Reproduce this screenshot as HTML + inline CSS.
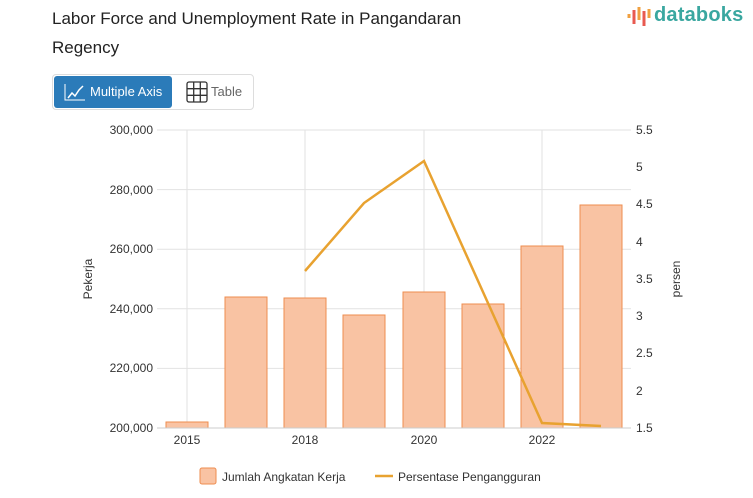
<!DOCTYPE html>
<html><head><meta charset="utf-8"><style>
body{margin:0;width:753px;height:498px;background:#fff;font-family:"Liberation Sans",sans-serif;overflow:hidden;position:relative}
.t{position:absolute;left:52px;top:4px;font-size:17px;line-height:29px;color:#222}
.logo{position:absolute;left:654px;top:4px;font-size:20px;color:#3aa7a0;font-weight:bold;letter-spacing:0.2px}
.tb{position:absolute;left:52px;top:74px;width:200px;height:34px;border:1px solid #ddd;border-radius:4px}
.b1{position:absolute;left:1px;top:1px;width:118px;height:32px;background:#2b7bb9;border-radius:3px;color:#fff;font-size:13px;line-height:32px}
.b2{position:absolute;left:158px;top:9px;font-size:13px;color:#666}
</style></head><body>
<div class="t">Labor Force and Unemployment Rate in Pangandaran<br>Regency</div>
<svg style="position:absolute;left:627px;top:6px" width="26" height="22"><g stroke-width="3"><line x1="2" y1="8" x2="2" y2="12" stroke="#f0a040"/><line x1="7" y1="4" x2="7" y2="18" stroke="#e85a50"/><line x1="12" y1="1" x2="12" y2="14" stroke="#f0a040"/><line x1="17" y1="5" x2="17" y2="20" stroke="#e85a50"/><line x1="22" y1="3" x2="22" y2="12" stroke="#f0a040"/></g></svg>
<div class="logo">databoks</div>
<div class="tb"><div class="b1"><svg style="position:absolute;left:10px;top:7px" width="22" height="18"><path d="M1 1V17H21" stroke="#fff" fill="none"/><path d="M4 15l4-5 3 3 4-6 4-4" stroke="#fff" fill="none" stroke-width="1.5"/></svg><span style="position:absolute;left:36px">Multiple Axis</span></div>
<svg style="position:absolute;left:133px;top:6px" width="22" height="22"><g stroke="#333" fill="none" stroke-width="1.3"><rect x="1" y="1" width="20" height="20" rx="2"/><line x1="7.7" y1="1" x2="7.7" y2="21"/><line x1="14.3" y1="1" x2="14.3" y2="21"/><line x1="1" y1="7.7" x2="21" y2="7.7"/><line x1="1" y1="14.3" x2="21" y2="14.3"/></g></svg>
<div class="b2">Table</div></div>
<svg style="position:absolute;left:0;top:0" width="753" height="498" font-family="Liberation Sans, sans-serif" font-size="12" fill="#333">
<g stroke="#e2e2e2"><line x1="157" x2="631" y1="130" y2="130"/><line x1="157" x2="631" y1="189.6" y2="189.6"/><line x1="157" x2="631" y1="249.2" y2="249.2"/><line x1="157" x2="631" y1="308.8" y2="308.8"/><line x1="157" x2="631" y1="368.4" y2="368.4"/>
<line x1="187" x2="187" y1="130" y2="428"/><line x1="305" x2="305" y1="130" y2="428"/><line x1="424" x2="424" y1="130" y2="428"/><line x1="542" x2="542" y1="130" y2="428"/></g>
<g fill="#f9c3a3" stroke="#ee8c4f" stroke-width="1">
<rect x="166" y="422" width="42" height="6"/><rect x="225" y="297" width="42" height="131"/><rect x="284" y="298" width="42" height="130"/><rect x="343" y="315" width="42" height="113"/><rect x="403" y="292" width="42" height="136"/><rect x="462" y="304" width="42" height="124"/><rect x="521" y="246" width="42" height="182"/><rect x="580" y="205" width="42" height="223"/></g>
<line x1="157" x2="631" y1="428" y2="428" stroke="#ccc"/>
<polyline points="305,271 364,203 424,161 483,292 542,423 601,426" fill="none" stroke="#e8a230" stroke-width="2.5"/>
<g text-anchor="end"><text x="153" y="134">300,000</text><text x="153" y="194">280,000</text><text x="153" y="253">260,000</text><text x="153" y="313">240,000</text><text x="153" y="372">220,000</text><text x="153" y="432">200,000</text></g>
<g><text x="636" y="134">5.5</text><text x="636" y="171">5</text><text x="636" y="208">4.5</text><text x="636" y="246">4</text><text x="636" y="283">3.5</text><text x="636" y="320">3</text><text x="636" y="357">2.5</text><text x="636" y="395">2</text><text x="636" y="432">1.5</text></g>
<g text-anchor="middle"><text x="187" y="444">2015</text><text x="305" y="444">2018</text><text x="424" y="444">2020</text><text x="542" y="444">2022</text></g>
<text transform="translate(92,279) rotate(-90)" text-anchor="middle">Pekerja</text>
<text transform="translate(680,279) rotate(-90)" text-anchor="middle">persen</text>
<rect x="200" y="468" width="16" height="16" rx="2" fill="#f9c3a3" stroke="#ee8c4f"/>
<text x="222" y="481">Jumlah Angkatan Kerja</text>
<line x1="375" x2="393" y1="476" y2="476" stroke="#e8a230" stroke-width="2.5"/>
<text x="398" y="481">Persentase Pengangguran</text>
</svg>
</body></html>
